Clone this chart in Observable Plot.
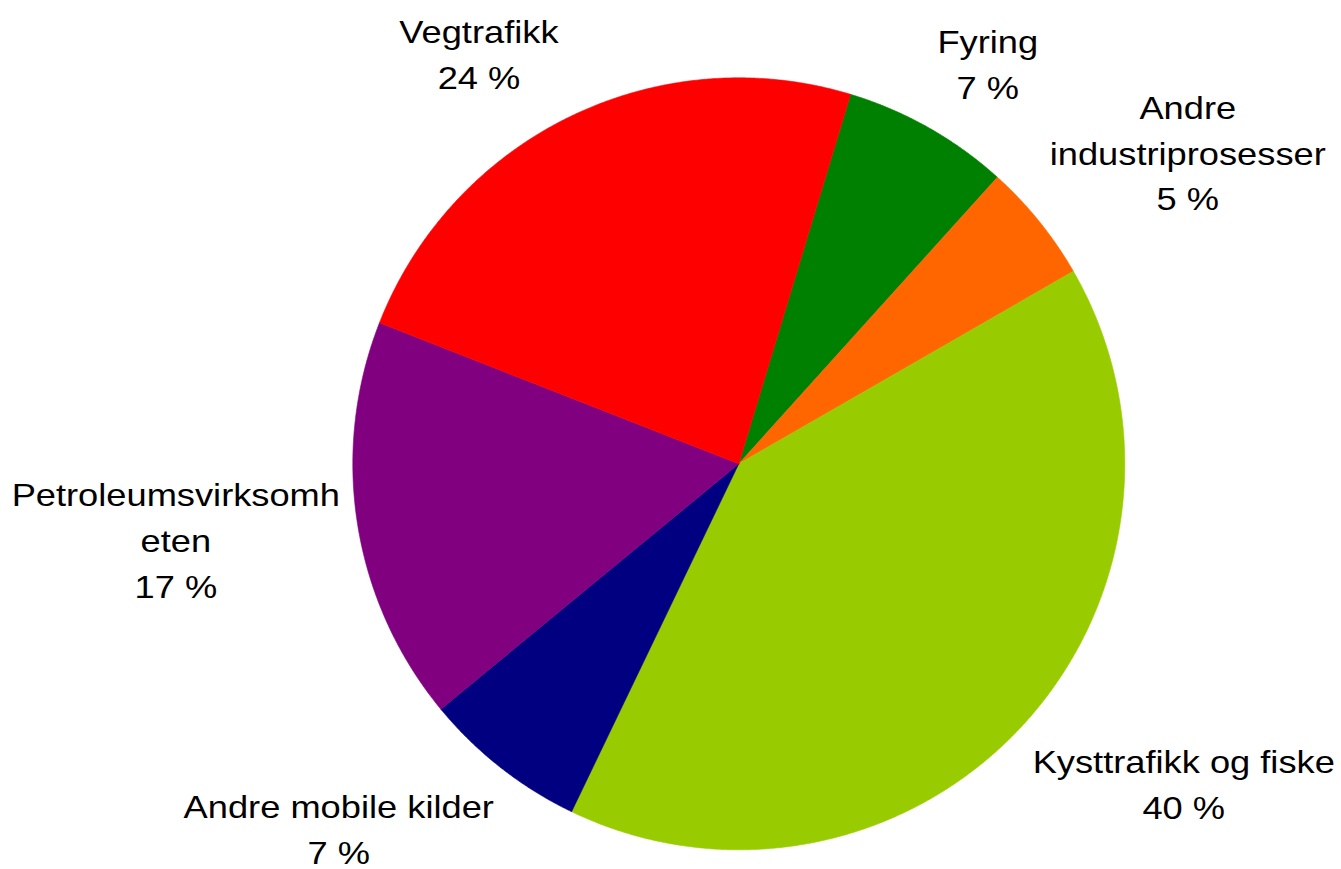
<!DOCTYPE html>
<html>
<head>
<meta charset="utf-8">
<script src="https://cdn.jsdelivr.net/npm/d3@7"></script>
<script src="https://cdn.jsdelivr.net/npm/@observablehq/plot@0.6"></script>
<style>
  html, body { margin: 0; padding: 0; background: #fff; }
  #chart { width: 1341px; height: 869px; }
</style>
</head>
<body>
<div id="chart"></div>
<script>
// ---- data ----
const categories = ["Fyring", "Andre industriprosesser", "Kysttrafikk og fiske", "Andre mobile kilder", "Petroleumsvirksomheten", "Vegtrafikk"];
const labelTexts = ["Fyring", "Andre\nindustriprosesser", "Kysttrafikk og fiske", "Andre mobile kilder", "Petroleumsvirksomh\neten", "Vegtrafikk"];
const shares = [7.0, 5.0, 40.4, 6.9, 16.9, 23.7];

// ---- styles / layout ----
const colors = ["#008000", "#FF6600", "#99CC00", "#000080", "#800080", "#FF0000"];
const startDeg = 16.84;
// label placement: polar angle (deg, clockwise from top) and distance (in radii)
const labelAngle = [32.06, 55.46, 125.9, 227.4, 262.1, 327.5];
const labelDist = [1.215, 1.412, 1.423, 1.408, 1.4725, 1.253];
const textStretch = 1.17;

const rad = d => d * Math.PI / 180;
const total = d3.sum(shares);
const pie = d3.pie().sort(null).startAngle(rad(startDeg)).endAngle(rad(startDeg) + 2 * Math.PI);
const arcs = pie(shares);

// polygon points for each slice
const pts = [];
arcs.forEach((a, i) => {
  const name = categories[i];
  pts.push({name, x: 0, y: 0});
  const n = Math.max(2, Math.ceil((a.endAngle - a.startAngle) / 0.005));
  for (let k = 0; k <= n; k++) {
    const t = a.startAngle + (a.endAngle - a.startAngle) * k / n;
    pts.push({name, x: Math.sin(t), y: Math.cos(t)});
  }
  pts.push({name, x: 0, y: 0});
});

const labels = categories.map((name, i) => ({
  name,
  text: labelTexts[i] + "\n" + Math.round(shares[i] / total * 100) + " %",
  x: Math.sin(rad(labelAngle[i])) * labelDist[i],
  y: Math.cos(rad(labelAngle[i])) * labelDist[i]
}));

const cx = 738.3, cy = 463.3, R = 386;
const chart = Plot.plot({
  width: 1341,
  height: 869,
  margin: 0,
  x: {domain: [-1, 1], range: [cx - R, cx + R], axis: null},
  y: {domain: [-1, 1], range: [cy + R, cy - R], axis: null},
  color: {domain: categories, range: colors},
  style: {fontFamily: "'Liberation Sans', Arial, sans-serif", background: "#fff"},
  marks: [
    Plot.line(pts, {x: "x", y: "y", z: "name", fill: "name", stroke: "name", strokeWidth: 0.6, curve: "linear-closed"}),
    Plot.text(labels, {x: "x", y: "y", dy: -5, text: "text", fontSize: 31, lineHeight: 1.484, fill: "#000", textAnchor: "middle", lineAnchor: "middle", className: "pie-label"})
  ]
});
// the reference's label font is horizontally wider than Arial: stretch each label about its anchor
chart.querySelectorAll("g.pie-label text, .pie-label text").forEach(t => {
  const tr = t.getAttribute("transform") || "";
  t.setAttribute("transform", tr + ` scale(${textStretch},1)`);
});
document.getElementById("chart").appendChild(chart);
</script>
</body>
</html>
